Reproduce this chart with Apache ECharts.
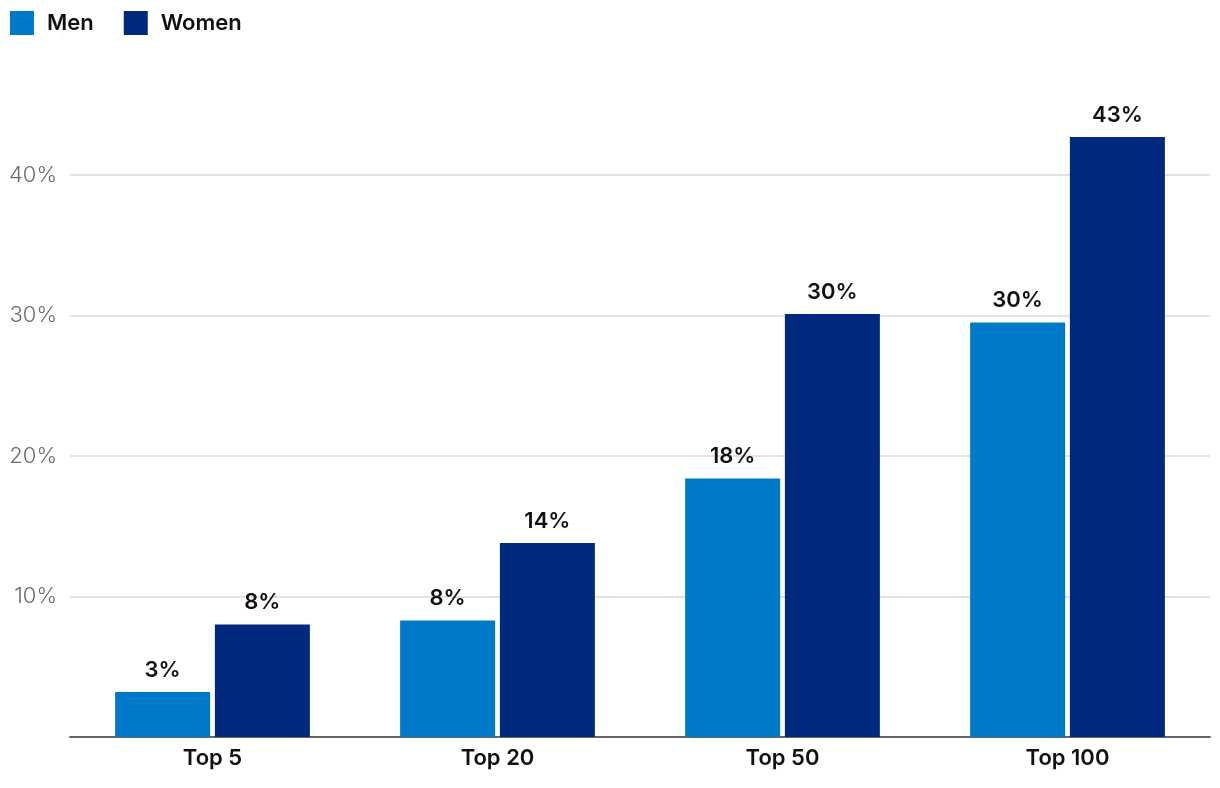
<!DOCTYPE html>
<html>
<head>
<meta charset="utf-8">
<script src="https://cdn.jsdelivr.net/npm/echarts@6/dist/echarts.min.js"></script>
<style>html,body{margin:0;padding:0;background:#fff}#c{width:1220px;height:788px}</style>
</head>
<body>
<div id="c"></div>
<script>
const categories = ['Top 5', 'Top 20', 'Top 50', 'Top 100'];
const men = [3.2, 8.3, 18.4, 29.5];
const women = [8.0, 13.8, 30.1, 42.7];
const seriesNames = ['Men', 'Women'];
const colors = ['#0079C8', '#00297E'];

const chart = echarts.init(document.getElementById('c'));
const labelStyle = {
  show: true, position: 'top', distance: 11,
  formatter: p => Math.round(p.value) + '%',
  fontFamily: 'Inter', fontSize: 22, fontWeight: 600, color: '#111'
};
chart.setOption({
  animation: false,
  color: colors,
  legend: {
    left: 10, top: 11, padding: 0, icon: 'rect', itemWidth: 24, itemHeight: 24, itemGap: 30,
    textStyle: { fontFamily: 'Inter', fontSize: 22, fontWeight: 600, color: '#111', padding: [0,0,0,8] },
    data: seriesNames
  },
  grid: { left: 70, right: 10, top: 175, bottom: 51, containLabel: false },
  xAxis: {
    type: 'category', data: categories,
    axisLine: { lineStyle: { color: '#666', width: 2 } },
    axisTick: { show: false },
    axisLabel: { margin: 10, fontFamily: 'Inter', fontSize: 22, fontWeight: 600, color: '#111' }
  },
  yAxis: {
    type: 'value', min: 0, max: 40, interval: 10,
    axisLine: { show: false }, axisTick: { show: false },
    splitLine: { lineStyle: { color: '#d9d9d9', width: 1.5 } },
    axisLabel: {
      margin: 13, fontFamily: 'Inter', fontSize: 22, fontWeight: 300, color: '#6b6b6b',
      formatter: v => v === 0 ? '' : v + '%'
    }
  },
  series: [
    { name: seriesNames[0], type: 'bar', data: men, barWidth: 95, barGap: '5%', clip: false, label: labelStyle },
    { name: seriesNames[1], type: 'bar', data: women, barWidth: 95, barGap: '5%', clip: false, label: labelStyle }
  ]
});
</script>
</body>
</html>
